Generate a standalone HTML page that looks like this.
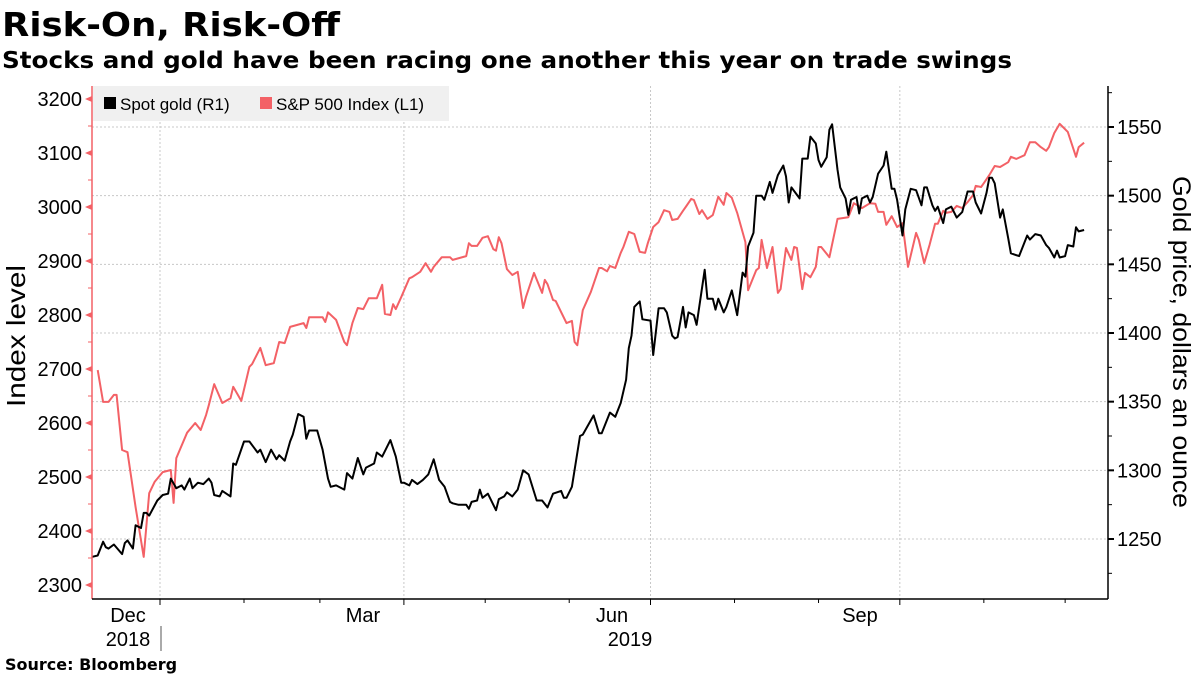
<!DOCTYPE html>
<html><head><meta charset="utf-8"><style>
body{margin:0;background:#fff;}
svg{display:block;font-family:"Liberation Sans","DejaVu Sans",sans-serif;}
</style></head><body>
<svg id="chart" width="1200" height="675" viewBox="0 0 1200 675">
<text x="2" y="36" font-family="DejaVu Sans" font-weight="bold" font-size="33" textLength="338" lengthAdjust="spacingAndGlyphs">Risk-On, Risk-Off</text>
<text x="2" y="68" font-family="DejaVu Sans" font-weight="bold" font-size="23" textLength="1010" lengthAdjust="spacingAndGlyphs">Stocks and gold have been racing one another this year on trade swings</text>
<g id="grid"></g>
<rect x="93" y="86" width="356" height="35" fill="#f0f0f0"/>
<g id="series"></g>
<g id="axes"></g>
<g>
<rect x="104" y="97" width="12" height="12" fill="#000"/>
<text x="120" y="110" font-size="17">Spot gold (R1)</text>
<rect x="260" y="97" width="12" height="12" fill="#f36166"/>
<text x="276" y="110" font-size="17">S&amp;P 500 Index (L1)</text>
</g>
<text transform="translate(25,336) rotate(-90)" text-anchor="middle" font-size="26" textLength="142" lengthAdjust="spacingAndGlyphs">Index level</text>
<text transform="translate(1173,342) rotate(90)" text-anchor="middle" font-size="25" textLength="332" lengthAdjust="spacingAndGlyphs">Gold price, dollars an ounce</text>
<text x="128" y="622" text-anchor="middle" font-size="20">Dec</text>
<text x="128" y="646" text-anchor="middle" font-size="20">2018</text>
<text x="363" y="622" text-anchor="middle" font-size="20">Mar</text>
<text x="612" y="622" text-anchor="middle" font-size="20">Jun</text>
<text x="630" y="646" text-anchor="middle" font-size="20">2019</text>
<text x="860" y="622" text-anchor="middle" font-size="20">Sep</text>
<line x1="161" y1="626" x2="161" y2="651" stroke="#555" stroke-width="1"/>
<text x="5" y="670" font-family="DejaVu Sans" font-weight="bold" font-size="16">Source: Bloomberg</text>
</svg>
<script>
// days since 2019-01-01
const spxDays=[-23,-21,-19,-17,-16,-14,-12,-9,-6,-4,-2,1,4,5,6,10,13,15,17,18,20,23,26,27,30,33,34,37,39,42,44,46,48,53,54,55,60,61,62,65,68,69,71,73,75,77,80,82,83,85,86,87,89,92,93,96,98,100,101,104,107,108,113,114,115,117,119,121,123,124,125,126,128,130,132,134,135,138,141,142,143,145,146,150,152,153,154,156,159,162,163,165,166,168,170,171,173,175,177,179,180,182,184,186,188,189,191,193,194,196,197,199,200,202,204,206,208,209,211,213,216,217,220,221,222,224,226,228,229,231,233,234,235,237,238,240,242,243,244,247,250,254,256,259,262,264,265,267,268,270,272,274,276,279,280,282,284,286,287,289,290,292,294,296,298,300,301,303,304,306,308,310,313,314,316,319,321,323,325,327,328,330,332,335,338,339,341];
const spxValues=[2698,2639,2639,2652,2652,2550,2546,2444,2352,2470,2491,2509,2513,2452,2535,2582,2600,2587,2615,2633,2672,2637,2646,2667,2641,2704,2709,2739,2707,2711,2750,2748,2778,2785,2776,2796,2796,2787,2805,2791,2750,2744,2785,2813,2811,2831,2831,2856,2802,2800,2820,2811,2833,2868,2870,2880,2896,2880,2889,2907,2907,2902,2909,2933,2928,2928,2943,2946,2922,2919,2944,2933,2885,2874,2880,2813,2833,2878,2841,2865,2857,2828,2826,2785,2789,2750,2744,2809,2843,2887,2887,2881,2891,2887,2915,2926,2954,2950,2917,2915,2933,2963,2972,2994,2991,2976,2978,2993,3000,3015,3013,2987,2994,2978,2985,3019,3004,3026,3017,2989,2935,2846,2883,2887,2939,2887,2926,2841,2848,2924,2902,2926,2924,2848,2878,2870,2889,2926,2926,2907,2978,2981,3007,2998,3007,3006,2991,2991,2967,2983,2963,2970,2889,2952,2939,2896,2930,2969,2969,2993,2989,2991,3002,2998,3009,3022,3039,3037,3044,3059,3076,3074,3083,3093,3089,3096,3120,3120,3111,3104,3111,3137,3154,3139,3093,3111,3119];
const goldDays=[-25,-23,-21,-20,-19,-17,-14,-13,-12,-10,-9,-7,-6,-5,-4,-1,1,3,4,6,8,9,11,12,14,16,18,19,20,22,23,26,27,28,31,33,36,37,39,41,43,44,46,48,49,51,53,54,55,58,60,62,63,65,68,69,71,73,75,76,79,80,82,85,87,89,90,92,93,95,97,99,101,103,105,107,108,110,113,114,115,117,118,119,121,124,125,127,128,130,132,134,136,139,141,143,145,148,149,150,152,155,156,160,162,163,166,168,170,172,173,174,175,177,178,181,182,184,186,187,189,190,191,193,194,195,197,198,201,202,204,205,206,208,209,211,213,215,216,217,219,220,222,223,225,226,228,230,231,232,233,236,237,239,240,242,243,244,246,247,248,250,251,253,254,255,257,258,259,261,262,263,265,267,268,270,271,272,274,275,277,279,281,282,283,285,286,287,289,290,292,294,296,298,300,301,303,305,306,307,308,310,311,313,314,317,320,321,323,325,327,328,330,331,332,334,335,337,338,339,341];
const goldValues=[1237,1238,1248,1244,1243,1246,1239,1247,1249,1243,1260,1258,1269,1269,1267,1278,1282,1283,1294,1287,1289,1286,1294,1287,1291,1290,1294,1291,1282,1281,1285,1281,1305,1304,1321,1321,1313,1315,1306,1315,1308,1311,1307,1321,1326,1341,1339,1323,1329,1329,1315,1294,1288,1289,1286,1298,1294,1309,1297,1302,1305,1313,1310,1322,1310,1291,1291,1289,1293,1290,1293,1297,1308,1293,1288,1277,1276,1275,1275,1272,1277,1278,1286,1280,1283,1271,1279,1281,1284,1281,1286,1300,1297,1278,1278,1273,1283,1285,1280,1280,1288,1325,1326,1340,1327,1327,1342,1339,1349,1366,1389,1398,1419,1423,1410,1409,1384,1418,1418,1415,1398,1396,1397,1419,1404,1415,1413,1406,1446,1425,1425,1417,1425,1415,1419,1431,1413,1444,1441,1463,1473,1500,1500,1497,1510,1502,1515,1522,1514,1495,1506,1498,1527,1527,1543,1538,1526,1521,1528,1548,1552,1519,1506,1498,1486,1497,1499,1487,1498,1500,1495,1499,1516,1522,1532,1505,1505,1497,1471,1490,1505,1504,1493,1506,1506,1493,1489,1492,1480,1490,1492,1484,1488,1503,1503,1495,1487,1502,1513,1513,1509,1484,1490,1469,1458,1456,1471,1468,1472,1471,1464,1462,1455,1460,1455,1456,1464,1463,1477,1474,1475];
const leftTicks=[2300,2400,2500,2600,2700,2800,2900,3000,3100,3200];
const rightTicks=[1250,1300,1350,1400,1450,1500,1550];
const quarterDays=[0,90,181,273];
const monthDays=[-30,31,59,120,151,212,243,304,334];

const NS='http://www.w3.org/2000/svg';
const X0=92,X1=1108,Y0=86,Y1=599;
const xS=d=>160+d*2.71;
const yL=v=>99+(3200-v)*0.54;
const yR=v=>127+(1550-v)*1.3733;
function mk(tag,attrs,parent){const e=document.createElementNS(NS,tag);for(const k in attrs)e.setAttribute(k,attrs[k]);parent.appendChild(e);return e;}
const grid=document.getElementById('grid'),axes=document.getElementById('axes'),series=document.getElementById('series');
rightTicks.forEach(v=>{const y=yR(v);
 const g=mk('line',{x1:X0,x2:X1,y1:y,y2:y,stroke:'#c8c8c8','stroke-dasharray':'2,2'},grid);
 
 
 const t=mk('line',{x1:X1,x2:X1+6,y1:y,y2:y,stroke:'#000','stroke-width':2},axes);
 
 
 const l=mk('text',{x:X1+9,y:y+7,'font-size':20},axes);l.textContent=v;
 
 
});
for(let v=1225;v<=1575;v+=50){const y=yR(v);if(y<Y0||y>Y1)continue;
 const t=mk('line',{x1:X1,x2:X1+4,y1:y,y2:y,stroke:'#000'},axes);
 
 }
quarterDays.forEach(d=>{const x=xS(d);
 const g=mk('line',{x1:x,x2:x,y1:Y0,y2:Y1,stroke:'#c8c8c8','stroke-dasharray':'2,2'},grid);
 
 
 const t=mk('line',{x1:x,x2:x,y1:Y1,y2:Y1+6,stroke:'#000'},axes);
 
 });
monthDays.forEach(d=>{const x=xS(d);if(x<X0||x>X1)return;
 const t=mk('line',{x1:x,x2:x,y1:Y1,y2:Y1+4,stroke:'#000'},axes);
 
 });
leftTicks.forEach(v=>{const y=yL(v);
 const t=mk('path',{d:`M${X0} ${y-3} L${X0-7} ${y} L${X0} ${y+3} Z`,fill:'#f36166'},axes);
 
 
 const l=mk('text',{x:X0-10,y:y+7,'font-size':20,'text-anchor':'end'},axes);l.textContent=v;
 
 });
for(let v=2250;v<=3250;v+=100){const y=yL(v);if(y<Y0||y>Y1)continue;
 const t=mk('line',{x1:X0-4,x2:X0,y1:y,y2:y,stroke:'#f36166'},axes);
 
 }
const la=mk('line',{x1:X0,x2:X0,y1:Y0,y2:Y1,stroke:'#f36166','stroke-width':1.5},axes);


const ra=mk('line',{x1:X1,x2:X1,y1:Y0,y2:Y1,stroke:'#000','stroke-width':1.5},axes);


const ba=mk('line',{x1:X0,x2:X1,y1:Y1,y2:Y1,stroke:'#000','stroke-width':1.5},axes);


const sp=mk('polyline',{points:spxDays.map((d,i)=>xS(d).toFixed(1)+','+yL(spxValues[i]).toFixed(1)).join(' '),fill:'none',stroke:'#f36166','stroke-width':2,'stroke-linejoin':'round'},series);


const gl=mk('polyline',{points:goldDays.map((d,i)=>xS(d).toFixed(1)+','+yR(goldValues[i]).toFixed(1)).join(' '),fill:'none',stroke:'#000','stroke-width':2,'stroke-linejoin':'round'},series);


</script>
</body></html>
